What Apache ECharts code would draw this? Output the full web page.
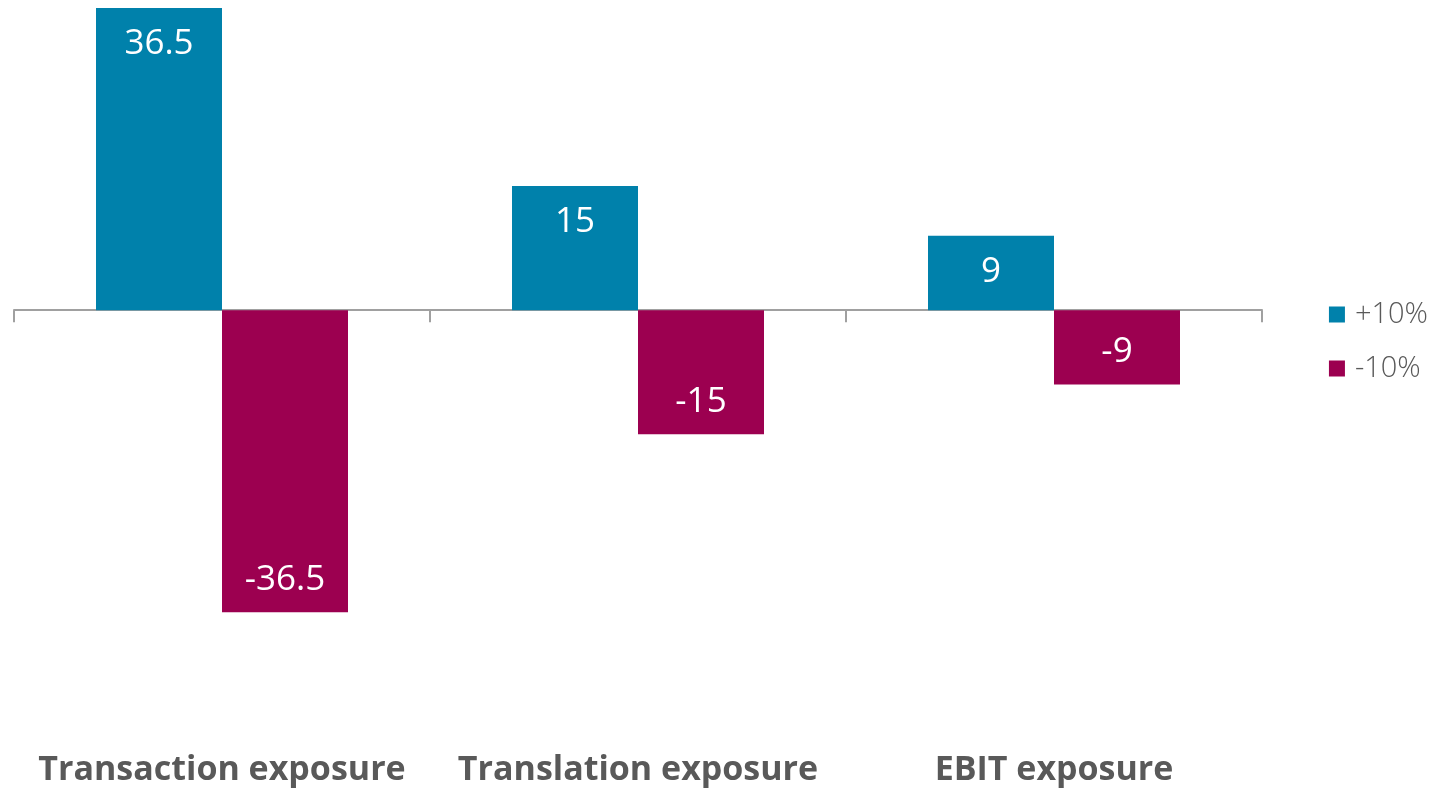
<!DOCTYPE html>
<html>
<head>
<meta charset="utf-8">
<script src="https://cdn.jsdelivr.net/npm/echarts@6/dist/echarts.min.js"></script>
<style>
  html, body { margin: 0; padding: 0; background: #fff; }
  #chart { width: 1439px; height: 788px; }
</style>
</head>
<body>
<div id="chart"></div>
<script>
const categories = ['Transaction exposure', 'Translation exposure', 'EBIT exposure']
const seriesNames = ['+10%', '-10%']
const upValues = [36.5, 15, 9]
const downValues = [-36.5, -15, -9]

const myChart = echarts.init(document.getElementById('chart'))

const labelFont = { color: '#ffffff', fontSize: 35, fontFamily: 'Open Sans', fontWeight: 'normal' }

const option = {
  animation: false,
  legend: {
    orient: 'vertical',
    right: 6,
    top: 295,
    itemWidth: 16,
    itemHeight: 16,
    itemGap: 25,
    itemStyle: { borderWidth: 0 },
    icon: 'rect',
    textStyle: { color: '#595959', fontSize: 29, fontFamily: 'Open Sans', fontWeight: 300, padding: [0, 0, 0, 5] },
    data: seriesNames
  },
  grid: { left: 14, right: 177, top: 8, bottom: 64 },
  xAxis: [
    {
      type: 'category',
      data: categories,
      position: 'bottom',
      axisLine: { show: false, onZero: false },
      axisTick: { show: false },
      axisLabel: {
        interval: 0,
        hideOverlap: false,
        margin: 29,
        color: '#595959',
        fontSize: 34,
        fontWeight: 'bold',
        fontFamily: 'Open Sans'
      }
    },
    {
      type: 'category',
      data: categories,
      position: 'bottom',
      axisLine: { show: true, onZero: true, lineStyle: { color: '#a0a0a0', width: 2 } },
      axisTick: { show: true, length: 12, lineStyle: { color: '#a0a0a0', width: 2 } },
      axisLabel: { show: false }
    }
  ],
  yAxis: {
    type: 'value',
    min: -50,
    max: 36.5,
    show: false,
    splitLine: { show: false }
  },
  series: [
    {
      name: seriesNames[0],
      type: 'bar',
      data: upValues,
      barWidth: 126,
      barGap: '0%',
      itemStyle: { color: '#0081AB' },
      label: { show: true, position: 'insideTop', distance: 19, ...labelFont }
    },
    {
      name: seriesNames[1],
      type: 'bar',
      data: downValues,
      barWidth: 126,
      barGap: '0%',
      itemStyle: { color: '#9C0050' },
      label: { show: true, position: 'insideBottom', distance: 15, ...labelFont }
    }
  ]
}

myChart.setOption(option)
window.addEventListener('resize', function () {
  myChart.resize()
})
</script>
</body>
</html>
